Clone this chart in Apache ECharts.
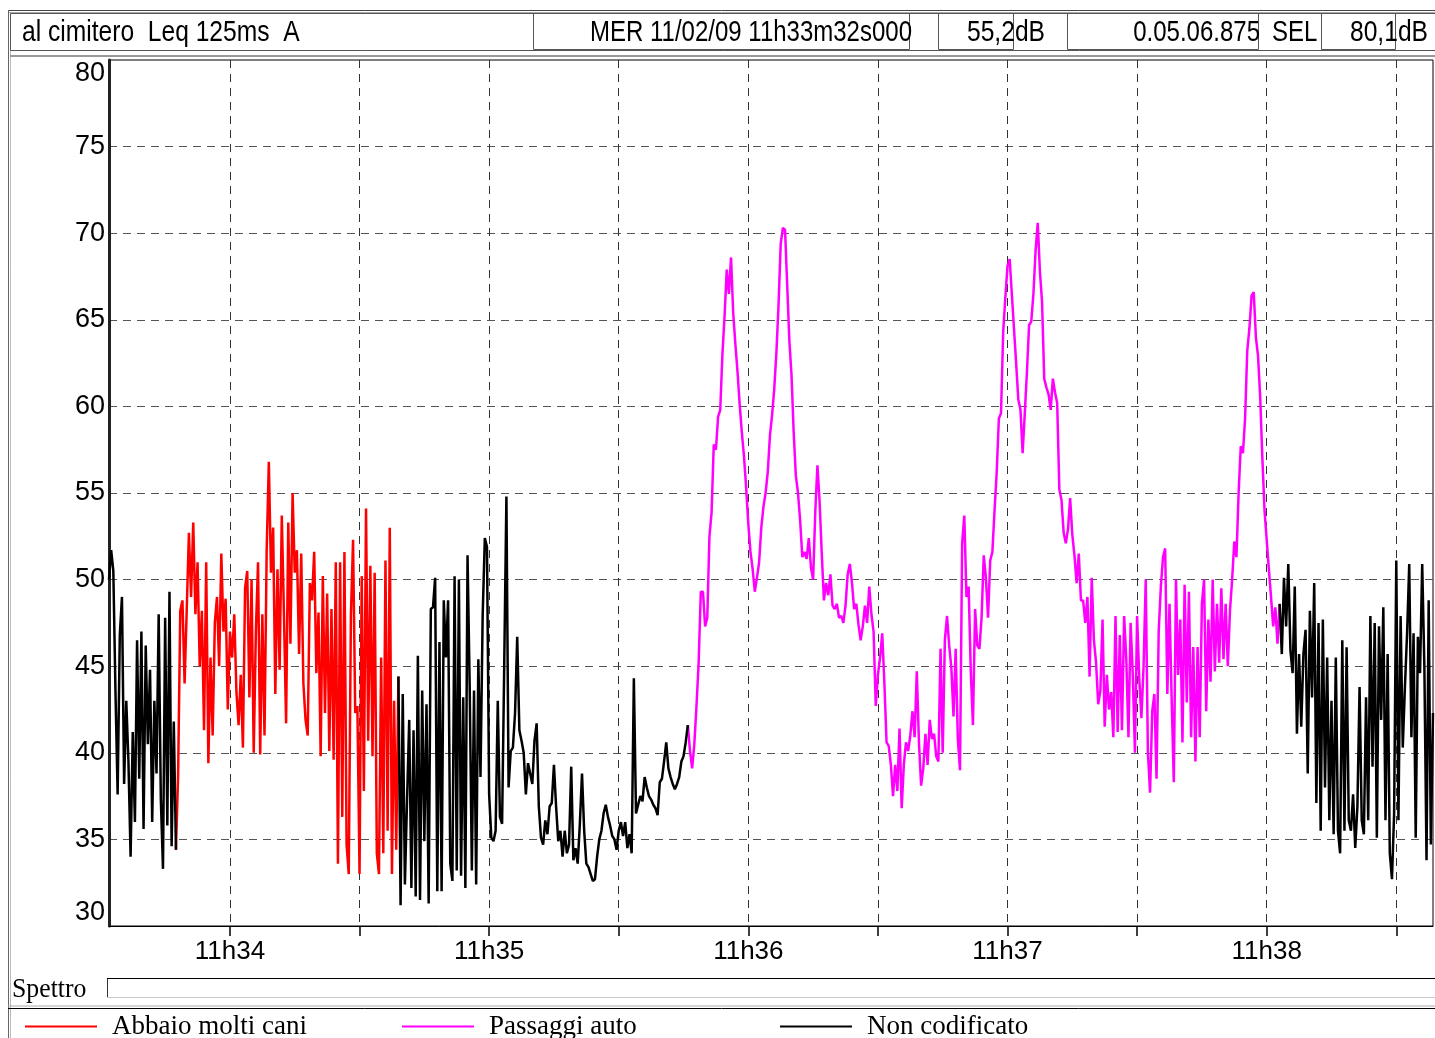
<!DOCTYPE html>
<html>
<head>
<meta charset="utf-8">
<title>al cimitero Leq 125ms A</title>
<script src="https://cdn.jsdelivr.net/npm/echarts@6/dist/echarts.min.js"></script>
<style>
  html, body { margin: 0; padding: 0; background: #fff; }
  #chart { width: 1435px; height: 1038px; }
</style>
</head>
<body>
<div id="chart"></div>
<script>
// Leq 125ms letto ogni 0,5 s a partire dalle 11h33m32s
const startSec = 11 * 3600 + 33 * 60 + 32;
const stepSec = 0.5;

const level = [
  50, 51.7, 50.5, 43.5, 37.6, 46.8, 49.0, 38.2, 43.0, 39.5, 34.0, 41.2, 36.0, 46.5, 38.5, 47.0, 35.6, 46.2, 40.5, 44.8,
  36.0, 43.0, 38.8, 48.0, 37.3, 33.3, 47.8, 35.8, 49.3, 34.6, 41.8, 34.4, 38.7, 48.2, 48.8, 44.0, 48.3, 52.7, 49.0, 53.3,
  48.0, 51.0, 45.0, 48.2, 41.3, 51.0, 39.4, 45.5, 41.0, 47.5, 49.0, 45.0, 51.5, 47.0, 48.9, 42.5, 47.0, 45.5, 48.0, 43.5,
  41.6, 44.5, 40.3, 49.5, 50.5, 43.2, 50.0, 40.0, 47.0, 51.0, 39.9, 48.0, 41.0, 51.7, 56.8, 50.4, 53.0, 43.4, 50.6, 44.8,
  53.7, 48.0, 41.7, 53.3, 46.3, 55.0, 50.4, 51.7, 45.7, 51.5, 44.0, 41.9, 41.0, 49.8, 48.8, 51.6, 44.6, 48.1, 39.8, 50.2,
  42.3, 49.2, 40.1, 48.3, 39.6, 51.0, 33.6, 51.0, 36.3, 51.6, 34.7, 33.0, 47.9, 52.3, 42.3, 42.7, 33.0, 50.2, 37.8, 54.1,
  40.7, 50.8, 39.8, 50.4, 34.2, 33.0, 45.5, 34.2, 51.1, 35.5, 53.0, 33.0, 43.0, 34.4, 44.4, 31.2, 43.4, 32.4, 37.3, 41.9,
  32.2, 41.3, 31.7, 45.6, 31.5, 43.6, 34.9, 42.8, 31.3, 48.3, 48.4, 50.1, 32.0, 46.4, 32.0, 48.8, 45.5, 48.8, 33.6, 32.6,
  50.2, 33.2, 50.0, 32.9, 43.2, 32.2, 51.4, 43.8, 33.2, 43.6, 32.4, 45.4, 38.6, 47.9, 52.4, 51.9, 37.6, 35.1, 34.9, 35.5,
  43.0, 36.3, 35.9, 45.2, 54.8, 38.0, 40.1, 40.3, 42.3, 46.7, 41.3, 40.7, 40.0, 37.6, 39.4, 38.8, 38.2, 40.7, 41.7, 36.9,
  35.1, 34.7, 36.1, 35.3, 36.9, 37.1, 39.3, 36.9, 34.9, 35.5, 34.0, 35.5, 34.2, 34.7, 39.2, 33.8, 34.5, 33.6, 35.9, 38.8,
  35.5, 33.6, 33.4, 33.0, 32.6, 32.7, 34.0, 35.0, 35.5, 36.5, 37.0, 36.3, 35.8, 35.2, 35.0, 34.4, 35.5, 36.0, 35.2, 36.0,
  34.5, 35.3, 34.2, 44.3, 36.5, 37.0, 37.5, 37.2, 38.6, 38.0, 37.5, 37.3, 37.0, 36.8, 36.4, 38.3, 38.5, 39.5, 40.6, 39.1,
  38.6, 38.2, 37.9, 38.2, 38.6, 39.5, 39.8, 40.6, 41.6, 40.1, 39.1, 40.5, 42.7, 45.2, 49.3, 49.3, 47.3, 47.8, 52.5, 53.9,
  57.8, 57.5, 59.4, 59.8, 63.0, 65.2, 67.9, 66.5, 68.6, 65.4, 63.6, 62.0, 60.1, 58.5, 57.1, 55.3, 53.2, 51.6, 50.6, 49.3,
  50.1, 51.0, 53.0, 54.2, 55.0, 56.2, 58.3, 59.5, 61.0, 63.1, 65.9, 69.4, 70.3, 70.2, 67.0, 63.8, 61.8, 58.5, 56.0, 55.0,
  53.4, 51.3, 51.6, 51.2, 52.4, 50.7, 50.0, 53.9, 56.6, 54.5, 51.5, 48.8, 49.8, 49.1, 50.3, 48.5, 48.3, 48.6, 47.8, 47.9,
  47.5, 48.5, 50.3, 50.9, 49.8, 48.3, 48.6, 47.4, 46.5, 47.3, 48.5, 47.5, 49.6, 48.0, 47.0, 42.7, 44.5, 45.5, 46.9, 44.0,
  40.6, 40.4, 39.3, 37.5, 39.3, 37.8, 41.4, 36.8, 39.3, 40.6, 40.1, 41.0, 42.4, 40.9, 44.7, 40.6, 38.1, 39.1, 41.1, 39.3,
  41.9, 40.8, 41.1, 39.8, 39.5, 46.0, 40.0, 46.5, 47.9, 46.2, 44.9, 42.1, 46.0, 40.8, 39.0, 52.1, 53.7, 49.0, 49.6, 44.7,
  41.6, 48.3, 46.2, 46.0, 47.8, 51.4, 50.1, 47.8, 51.1, 51.6, 54.0, 56.2, 59.3, 59.6, 64.3, 66.3, 68.1, 68.5, 66.5, 64.5,
  62.5, 60.4, 59.8, 57.3, 59.6, 62.0, 64.7, 64.9, 66.5, 69.0, 70.6, 67.8, 66.0, 61.6, 61.1, 60.7, 59.8, 61.6, 60.8, 60.2,
  55.2, 54.6, 52.7, 52.1, 52.9, 54.7, 52.6, 51.4, 49.8, 51.5, 48.8, 48.8, 47.5, 49.0, 44.4, 50.1, 46.5, 45.2, 42.8, 43.6,
  47.7, 41.5, 44.5, 42.5, 43.5, 40.9, 47.9, 41.2, 46.8, 41.3, 47.9, 45.4, 40.9, 47.5, 44.5, 40.0, 47.9, 44.3, 42.0, 45.0,
  50.0, 40.0, 37.7, 42.4, 43.4, 38.5, 47.0, 49.6, 51.3, 51.8, 43.4, 48.6, 43.1, 38.3, 50.0, 44.5, 47.7, 40.6, 49.7, 42.9,
  49.3, 40.9, 46.1, 39.5, 46.1, 40.9, 48.6, 50.0, 42.4, 47.7, 44.1, 50.0, 44.7, 48.6, 45.2, 49.5, 45.4, 48.6, 45.0, 48.2,
  50.0, 52.2, 51.3, 55.0, 57.7, 57.3, 59.3, 63.2, 64.5, 66.4, 66.6, 64.0, 62.9, 60.5, 57.0, 54.0, 52.3, 50.6, 49.0, 47.3,
  48.4, 46.3, 48.6, 45.7, 50.1, 47.3, 50.9, 45.9, 44.6, 49.6, 41.1, 45.7, 41.5, 45.7, 47.1, 38.8, 48.2, 43.2, 49.8, 37.1,
  47.5, 35.5, 47.7, 38.0, 45.5, 36.1, 43.0, 35.3, 45.5, 35.5, 34.2, 46.5, 35.5, 46.1, 36.1, 35.5, 37.6, 34.5, 36.9, 43.8,
  36.1, 35.3, 43.2, 36.1, 47.9, 39.2, 47.5, 35.1, 47.3, 41.9, 48.4, 36.1, 45.7, 34.2, 32.7, 36.5, 51.1, 36.1, 47.9, 40.3,
  43.8, 46.9, 50.9, 40.9, 46.9, 35.1, 46.7, 44.6, 50.9, 45.0, 33.8, 48.8, 34.7, 42.3
];

// tratti codificati: indici di inizio/fine (inclusi) e codice di ciascun tratto
const segBounds = [0, 31, 134, 268, 542, 613];
const segCodes = ['Non codificato', 'Abbaio molti cani', 'Non codificato', 'Passaggi auto', 'Non codificato'];

const codes = ['Abbaio molti cani', 'Passaggi auto', 'Non codificato'];
const codeColors = ['#ff0000', '#ff00ff', '#000000'];

const yMin = 30;
const yMax = 80;
const yStep = 5;

const headerTitle = 'al cimitero  Leq 125ms  A';
const headerStart = 'MER 11/02/09 11h33m32s000';
const headerLeq = '55,2dB';
const headerDuration = '0.05.06.875';
const headerSelLabel = 'SEL';
const headerSel = '80,1dB';

const sans = '"Liberation Sans", Arial, sans-serif';
const serif = '"Liberation Serif", "Times New Roman", serif';

function pad2(n) {
  return (n < 10 ? '0' : '') + n;
}

const timeSec = level.map((v, i) => startSec + i * stepSec);
const categories = timeSec.map(t => {
  const h = Math.floor(t / 3600);
  const m = Math.floor((t % 3600) / 60);
  const s = t % 60;
  return h + 'h' + pad2(m) + 'm' + s.toFixed(1) + 's';
});

function codeData(code) {
  return level.map((v, i) => {
    for (let k = 0; k < segCodes.length; k++) {
      if (segCodes[k] === code && i >= segBounds[k] && i <= segBounds[k + 1]) {
        return v;
      }
    }
    return null;
  });
}

const isHalfMinute = idx => timeSec[idx] % 30 === 0;
const isMinute = idx => timeSec[idx] % 60 === 0;

const myChart = echarts.init(document.getElementById('chart'));

function hLine(y, x1, x2, color, width) {
  return { type: 'line', silent: true, shape: { x1: x1, y1: y, x2: x2, y2: y }, style: { stroke: color, lineWidth: width || 1 } };
}
function vLine(x, y1, y2, color, width) {
  return { type: 'line', silent: true, shape: { x1: x, y1: y1, x2: x, y2: y2 }, style: { stroke: color, lineWidth: width || 1 } };
}
function box(x, y, w, h) {
  return { type: 'rect', silent: true, shape: { x: x, y: y, width: w, height: h }, style: { fill: 'none', stroke: '#555', lineWidth: 1 } };
}
// testo in stile "narrow": Liberation Sans compresso in orizzontale
function label(text, x, y, align, font, sx) {
  return {
    type: 'text', silent: true, z: 10,
    x: x, y: y, scaleX: sx || 1,
    style: { text: text, x: 0, y: 0, align: align, verticalAlign: 'middle', font: font, fill: '#000' }
  };
}

const option = {
  animation: false,
  backgroundColor: '#fff',
  grid: {
    left: 109,
    right: 2,
    top: 60,
    bottom: 112,
    show: true,
    borderColor: '#000',
    borderWidth: 1
  },
  legend: codes.map((name, k) => ({
    data: [name],
    left: [25, 402, 780][k],
    top: 1013,
    padding: 0,
    icon: 'rect',
    itemWidth: 72,
    itemHeight: 2,
    selectedMode: false,
    textStyle: { fontFamily: serif, fontSize: 27, color: '#000', padding: [0, 0, 0, 10] }
  })),
  xAxis: {
    type: 'category',
    data: categories,
    boundaryGap: false,
    axisLine: { lineStyle: { color: '#000', width: 1 } },
    axisTick: { interval: isHalfMinute, length: 10, lineStyle: { color: '#000', width: 1.5 } },
    axisLabel: {
      interval: isMinute,
      formatter: value => value.slice(0, 5),
      fontFamily: sans,
      fontSize: 26,
      color: '#000',
      margin: 13
    },
    splitLine: {
      show: true,
      interval: isHalfMinute,
      lineStyle: { color: '#333', type: [8, 6], width: 1 }
    }
  },
  yAxis: {
    type: 'value',
    min: yMin,
    max: yMax,
    interval: yStep,
    axisLine: { show: true, lineStyle: { color: '#222', width: 3 } },
    axisTick: { show: false },
    axisLabel: {
      fontFamily: sans,
      fontSize: 27,
      color: '#000',
      margin: 4,
      verticalAlignMinLabel: 'bottom',
      verticalAlignMaxLabel: 'top'
    },
    splitLine: {
      showMinLine: false,
      showMaxLine: false,
      lineStyle: { color: '#555', type: [8, 6], width: 1 }
    }
  },
  series: codes.map((name, k) => ({
    name: name,
    type: 'line',
    data: codeData(name),
    symbol: 'none',
    showSymbol: false,
    connectNulls: false,
    color: codeColors[k],
    lineStyle: { color: codeColors[k], width: 2.5 }
  })),
  graphic: [
    // cornice del pannello
    hLine(10.5, 8, 1435, '#444'),
    hLine(12.5, 8, 1435, '#aaa'),
    vLine(8.5, 10, 1038, '#666'),
    vLine(10.5, 12, 1038, '#bbb'),
    // riga di intestazione
    box(10.5, 13.5, 1430, 37),
    box(533.5, 13.5, 376, 36),
    box(938.5, 13.5, 75, 36),
    box(1067.5, 13.5, 191, 36),
    box(1321.5, 13.5, 74, 36),
    hLine(56, 10, 1435, '#999', 2),
    label(headerTitle, 22, 33, 'left', '30px ' + sans, 0.82),
    label(headerStart, 912, 33, 'right', '30px ' + sans, 0.8),
    label(headerLeq, 967, 33, 'left', '30px ' + sans, 0.82),
    label(headerDuration, 1260, 33, 'right', '30px ' + sans, 0.8),
    label(headerSelLabel, 1272, 33, 'left', '30px ' + sans, 0.8),
    label(headerSel, 1350, 33, 'left', '30px ' + sans, 0.82),
    // barra spettro
    label('Spettro', 12, 990, 'left', '28px ' + serif, 0.92),
    hLine(978.5, 107, 1435, '#000'),
    vLine(107.5, 979, 997, '#333'),
    hLine(997.5, 107, 1435, '#ccc'),
    // separatore legenda
    hLine(1006, 8, 1435, '#aaa'),
    hLine(1008.5, 8, 1435, '#000')
  ]
};

myChart.setOption(option);
window.addEventListener('resize', myChart.resize);
</script>
</body>
</html>
